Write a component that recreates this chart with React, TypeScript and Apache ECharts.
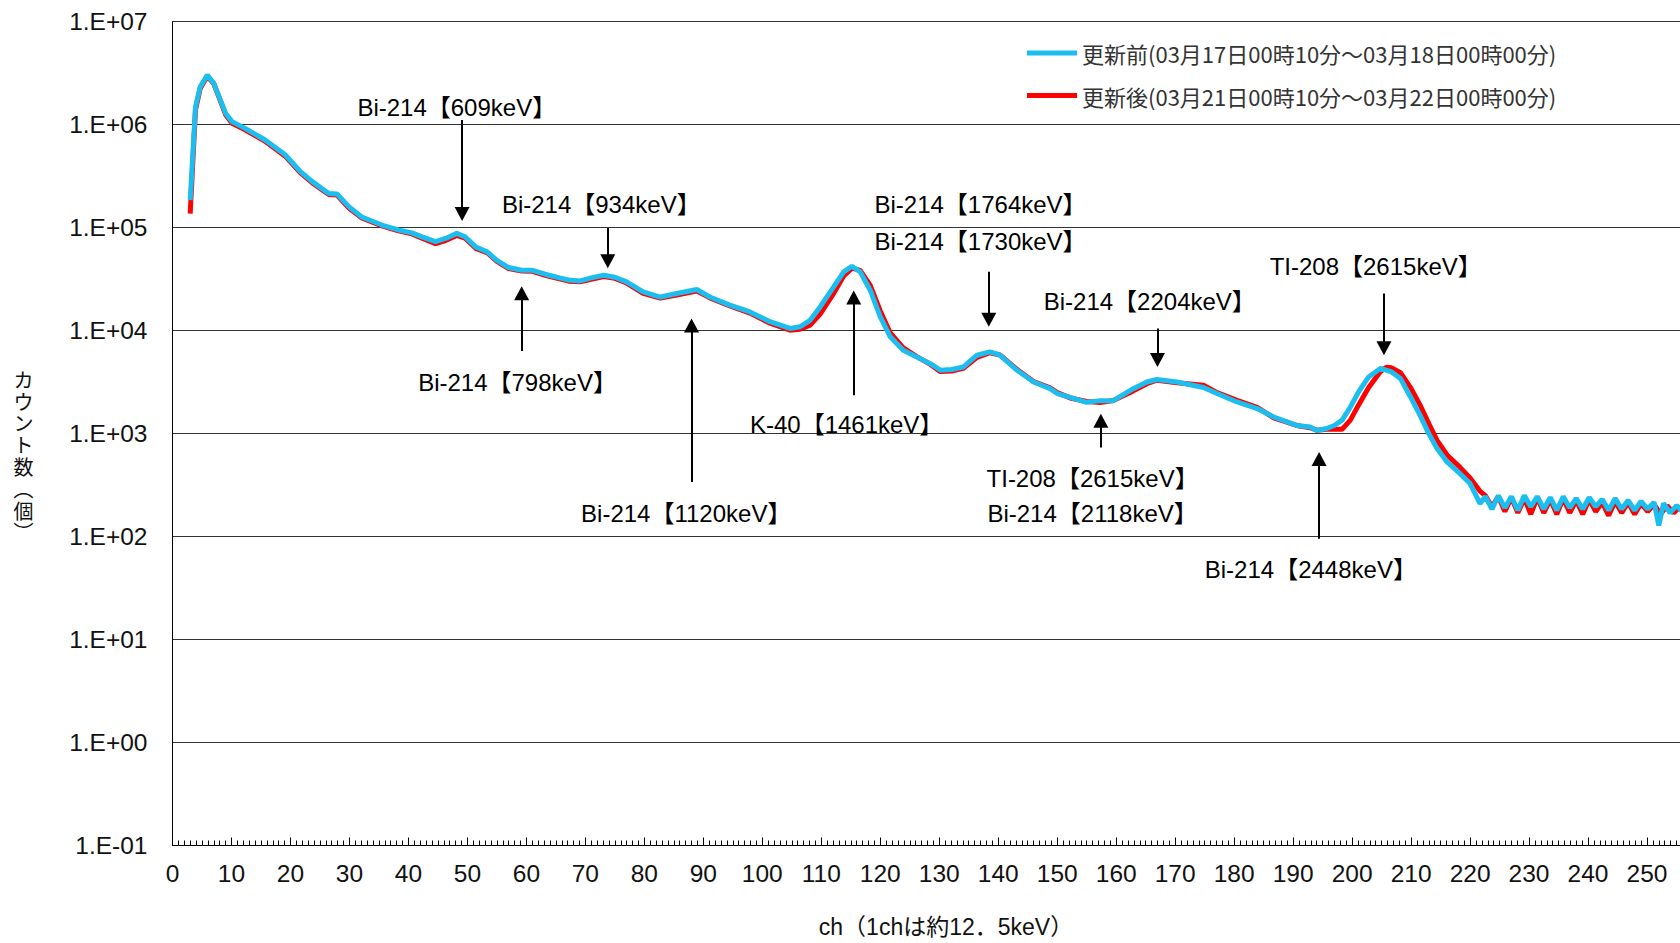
import React, { useEffect, useRef } from 'react';
import * as echarts from 'echarts';

// ---- data ----
const seriesNames = [
  '更新前(03月17日00時10分～03月18日00時00分)',
  '更新後(03月21日00時10分～03月22日00時00分)',
];

// [channel, count]
const beforeSpectrum: [number, number][] = [
  [3, 1.85e5], [3.9, 1.49e6], [4.7, 2.33e6], [5.9, 3.03e6], [7.0, 2.52e6], [9.0, 1.29e6],
  [10.1, 1.07e6], [12.3, 9.2e5], [15.7, 7.1e5], [19.1, 5.1e5], [21.7, 3.5e5], [23.7, 2.8e5],
  [26.5, 2.15e5], [27.9, 2.12e5], [29.9, 1.6e5], [32.1, 1.27e5], [35.5, 1.06e5], [38.3, 9.5e4],
  [40.6, 8.9e4], [42.3, 8.15e4], [44.6, 7.3e4], [46.3, 7.85e4], [48.2, 8.8e4], [49.6, 8.15e4],
  [51.4, 6.5e4], [53.4, 5.8e4], [55.0, 4.8e4], [57.0, 4.1e4], [59.2, 3.86e4], [60.9, 3.86e4],
  [63.2, 3.53e4], [65.6, 3.25e4], [67.2, 3.1e4], [69.1, 3.04e4], [71, 3.25e4], [73.1, 3.45e4],
  [75, 3.3e4], [77.0, 2.97e4], [79.8, 2.38e4], [82.7, 2.12e4], [85.5, 2.29e4], [88.9, 2.51e4],
  [91.1, 2.12e4], [94.5, 1.77e4], [97.9, 1.52e4], [101.3, 1.22e4], [104.7, 1.05e4], [106.4, 1.09e4],
  [108.1, 1.26e4], [109.8, 1.7e4], [112.1, 2.66e4], [113.8, 3.72e4], [115.2, 4.22e4], [116.6, 3.72e4],
  [118.3, 2.47e4], [120.0, 1.36e4], [121.7, 8.7e3], [123.9, 6.46e3], [126.2, 5.55e3], [128.5, 4.78e3],
  [130.2, 4.12e3], [132.1, 4.19e3], [134.1, 4.44e3], [136.4, 5.77e3], [138.6, 6.21e3], [140.3, 5.77e3],
  [143.2, 4.12e3], [146.0, 3.17e3], [148.8, 2.73e3], [150.0, 2.45e3], [152.2, 2.25e3], [155.0, 2.01e3],
  [157.3, 2.09e3], [159.5, 2.09e3], [162.9, 2.73e3], [165.2, 3.17e3], [166.9, 3.35e3], [170.3, 3.17e3],
  [174.8, 2.8e3], [177.1, 2.45e3], [180.5, 2.03e3], [183.9, 1.75e3], [186.7, 1.45e3], [190.6, 1.2e3],
  [192.9, 1.16e3], [194.0, 1.07e3], [195.7, 1.12e3], [197, 1.2e3], [198.3, 1.35e3], [199.7, 1.81e3],
  [201.1, 2.54e3], [202.8, 3.55e3], [204.8, 4.29e3], [206.7, 3.97e3], [208.2, 3.42e3], [209.9, 2.27e3],
  [211.5, 1.51e3], [213.0, 1.0e3], [214.4, 715], [216.1, 530], [218.3, 408], [220.0, 327],
  [221.7, 209], [222.6, 245], [223.7, 185], [224.8, 250], [225.9, 190], [227, 245], [228.1, 180],
  [229.2, 250], [230.3, 195], [231.4, 245], [232.5, 185], [233.6, 240], [234.7, 180], [235.8, 245],
  [236.9, 190], [238, 235], [239.1, 185], [240.2, 240], [241.3, 195], [242.4, 230], [243.5, 180],
  [244.6, 235], [245.7, 185], [246.8, 225], [247.9, 180], [249, 220], [250.1, 185], [251.2, 215],
  [252, 128], [252.8, 210], [253.9, 170], [255, 200], [256, 175],
];

const afterSpectrum: [number, number][] = [
  [3, 1.37e5], [3.9, 1.4e6], [4.7, 2.25e6], [5.9, 2.95e6], [7.0, 2.5e6], [9.0, 1.25e6],
  [10.1, 1.03e6], [12.3, 8.9e5], [15.7, 6.9e5], [19.1, 4.95e5], [21.7, 3.4e5], [23.7, 2.72e5],
  [26.5, 2.1e5], [27.9, 2.07e5], [29.9, 1.55e5], [32.1, 1.24e5], [35.5, 1.04e5], [38.3, 9.3e4],
  [40.6, 8.7e4], [42.3, 7.9e4], [44.6, 7.0e4], [46.3, 7.5e4], [48.2, 8.4e4], [49.6, 7.9e4],
  [51.4, 6.3e4], [53.4, 5.7e4], [55.0, 4.7e4], [57.0, 4.0e4], [59.2, 3.8e4], [60.9, 3.78e4],
  [63.2, 3.45e4], [65.6, 3.18e4], [67.2, 3.02e4], [69.1, 2.98e4], [71, 3.15e4], [73.1, 3.35e4],
  [75, 3.22e4], [77.0, 2.9e4], [79.8, 2.3e4], [82.7, 2.07e4], [85.5, 2.22e4], [88.9, 2.42e4],
  [91.1, 2.08e4], [94.5, 1.74e4], [97.9, 1.48e4], [101.3, 1.18e4], [104.7, 1.01e4], [106.4, 1.03e4],
  [108.1, 1.13e4], [109.8, 1.45e4], [112.1, 2.3e4], [113.8, 3.4e4], [115.2, 4.05e4], [116.6, 3.85e4],
  [118.3, 2.75e4], [120.0, 1.55e4], [121.7, 9.5e3], [123.9, 6.8e3], [126.2, 5.6e3], [128.5, 4.7e3],
  [130.2, 4.0e3], [132.1, 4.05e3], [134.1, 4.3e3], [136.4, 5.5e3], [138.6, 6.1e3], [140.3, 5.8e3],
  [143.2, 4.2e3], [146.0, 3.2e3], [148.8, 2.78e3], [150.0, 2.5e3], [152.2, 2.22e3], [155.0, 2.05e3],
  [157.3, 2.0e3], [159.5, 2.1e3], [162.9, 2.6e3], [165.2, 3.05e3], [166.9, 3.3e3], [170.3, 3.12e3],
  [174.8, 2.95e3], [177.1, 2.5e3], [180.5, 2.1e3], [183.9, 1.8e3], [186.7, 1.42e3], [190.6, 1.2e3],
  [192.9, 1.14e3], [194.0, 1.08e3], [195.7, 1.1e3], [197, 1.1e3], [198.3, 1.1e3], [199.7, 1.35e3],
  [201.1, 1.9e3], [202.8, 2.8e3], [204.8, 4.0e3], [205.8, 4.4e3], [206.7, 4.35e3], [208.2, 3.9e3],
  [209.9, 2.8e3], [211.5, 1.9e3], [213.0, 1.25e3], [214.4, 860], [216.1, 620], [218.3, 470],
  [220.0, 370], [221.7, 275], [222.6, 250], [223.7, 195], [224.8, 245], [225.9, 175], [227, 240],
  [228.1, 170], [229.2, 235], [230.3, 165], [231.4, 240], [232.5, 170], [233.6, 230], [234.7, 165],
  [235.8, 235], [236.9, 170], [238, 225], [239.1, 165], [240.2, 230], [241.3, 175], [242.4, 215],
  [243.5, 160], [244.6, 220], [245.7, 170], [246.8, 215], [247.9, 165], [249, 210], [250.1, 175],
  [251.2, 205], [252.3, 165], [253.4, 200], [254.5, 170], [255.6, 195],
];

// annotation arrows: channel, tail count, tip count
const arrowChannels = [49.1, 73.8, 59.2, 88.0, 115.5, 138.4, 167.0, 157.4, 205.4, 194.4];
const arrowTails = [1.11e6, 9.9e4, 6.35e3, 339, 2.36e3, 3.72e4, 1.05e4, 731, 2.29e4, 95.3];
const arrowTips = [1.16e5, 4.04e4, 2.69e4, 1.31e4, 2.45e4, 1.09e4, 4.44e3, 1.56e3, 5.77e3, 662];

// annotation labels: text, centre channel, centre count
const labelTexts = [
  'Bi-214【609keV】', 'Bi-214【934keV】', 'Bi-214【798keV】', 'Bi-214【1120keV】',
  'K-40【1461keV】', 'Bi-214【1764keV】', 'Bi-214【1730keV】', 'Bi-214【2204keV】',
  'TI-208【2615keV】', 'Bi-214【2118keV】', 'TI-208【2615keV】', 'Bi-214【2448keV】',
];
const labelChannels = [48.2, 72.7, 58.5, 87.1, 114.3, 137.0, 137.0, 165.7, 156.0, 156.0, 204.0, 193.0];
const labelCounts = [1.47e6, 1.69e5, 3.17e3, 167, 1.23e3, 1.69e5, 7.28e4, 1.9e4, 366, 167, 4.16e4, 47.6];

const xAxisTitle = 'ch（1chは約12．5keV）';
const yAxisTitleChars = ['カ', 'ウ', 'ン', 'ト', '数', '︵', '個', '︶'];

const CJK = "'Noto Sans CJK JP', 'Noto Sans', sans-serif";
const LATIN = "'Liberation Sans', Arial, 'Noto Sans CJK JP', sans-serif";
const BLUE = '#1CBEEF';
const RED = '#FF0000';
const HEAD_DECADES = 0.068; // half arrow-head height expressed in decades

export default function App() {
  const ref = useRef<HTMLDivElement>(null);
  useEffect(() => {
    if (!ref.current) return;
    const chart = echarts.init(ref.current, undefined, { renderer: 'svg' });

    const arrowData = arrowChannels.map((ch, i) => {
      const down = arrowTips[i] < arrowTails[i];
      const head = arrowTips[i] * Math.pow(10, down ? HEAD_DECADES : -HEAD_DECADES);
      return [{ coord: [ch, arrowTails[i]] }, { coord: [ch, head] }];
    });
    const labelData = labelTexts.map((t, i) => ({
      name: t,
      coord: [labelChannels[i], labelCounts[i]],
    }));

    // vertical (stacked) y-axis title, one glyph per row
    const pitch = 21.8;
    const titleTop = 455.5 - (pitch * (yAxisTitleChars.length - 1)) / 2;
    const yTitle = yAxisTitleChars.map((c, i) => ({
      type: 'text',
      x: 23.6,
      y: titleTop + i * pitch,
      style: {
        text: c,
        fontSize: 20,
        lineHeight: 20,
        fontFamily: CJK,
        fill: '#111',
        align: 'center',
        verticalAlign: 'middle',
      },
    }));

    chart.setOption({
      animation: false,
      backgroundColor: '#fff',
      textStyle: { fontFamily: CJK },
      grid: { left: 172.5, top: 21.7, right: 0, bottom: 97.5, containLabel: false },
      legend: {
        orient: 'vertical',
        left: 1022,
        top: 37,
        itemWidth: 50,
        itemHeight: 5,
        itemGap: 20.5,
        itemTextGap: 6,
        icon: 'rect',
        data: [seriesNames[0], seriesNames[1]],
        textStyle: { fontSize: 22, color: '#333', fontFamily: CJK, lineHeight: 22 },
      },
      xAxis: {
        type: 'value',
        min: 0,
        max: 260,
        interval: 10,
        axisLine: { show: true, lineStyle: { color: '#000', width: 1 } },
        axisTick: { show: true, inside: true, length: 8, lineStyle: { color: '#000' } },
        minorTick: { show: true, splitNumber: 10, length: 5, lineStyle: { color: '#000' } },
        splitLine: { show: false },
        axisLabel: {
          fontSize: 24.5, color: '#111', margin: 16, fontFamily: LATIN,
          showMaxLabel: false,
          formatter: (v: number) => (v <= 250 ? String(v) : ''),
        },
      },
      yAxis: {
        type: 'log',
        logBase: 10,
        min: 0.1,
        max: 1e7,
        splitNumber: 8,
        axisLine: { show: true, lineStyle: { color: '#000', width: 1 } },
        axisTick: { show: false },
        splitLine: { show: true, lineStyle: { color: '#333', width: 1 } },
        axisLabel: {
          fontSize: 24.5, color: '#111', margin: 25, fontFamily: LATIN,
          formatter: (v: number) => {
            const e = Math.round(Math.log10(v));
            return '1.E' + (e < 0 ? '-' : '+') + String(Math.abs(e)).padStart(2, '0');
          },
        },
      },
      series: [
        {
          name: seriesNames[1],
          type: 'line',
          data: afterSpectrum,
          showSymbol: false,
          symbol: 'none',
          color: RED,
          lineStyle: { color: RED, width: 5 },
          z: 2,
        },
        {
          name: seriesNames[0],
          type: 'line',
          data: beforeSpectrum,
          showSymbol: false,
          symbol: 'none',
          color: BLUE,
          lineStyle: { color: BLUE, width: 5 },
          z: 3,
          markLine: {
            silent: true,
            symbol: ['none', 'triangle'],
            symbolSize: [15, 14],
            label: { show: false },
            lineStyle: { color: '#000', width: 2, type: 'solid' },
            emphasis: { disabled: true },
            data: arrowData,
          },
          markPoint: {
            silent: true,
            symbol: 'circle',
            symbolSize: 0,
            itemStyle: { color: 'rgba(0,0,0,0)' },
            label: {
              show: true,
              position: 'inside',
              formatter: '{b}',
              fontSize: 24,
              color: '#000',
              fontFamily: LATIN,
            },
            data: labelData,
          },
        },
      ],
      graphic: [
        {
          type: 'text',
          x: 946,
          y: 927,
          style: {
            text: xAxisTitle,
            fontSize: 23,
            lineHeight: 24,
            fontFamily: LATIN,
            fill: '#111',
            align: 'center',
            verticalAlign: 'middle',
          },
        },
        ...yTitle,
      ],
    });
    return () => chart.dispose();
  }, []);
  return (
    <div
      style={{
        position: 'fixed', left: 0, top: 0, width: 1680, height: 943,
        overflow: 'hidden', background: '#fff',
      }}
    >
      <div ref={ref} style={{ width: 1706, height: 943 }} />
    </div>
  );
}
